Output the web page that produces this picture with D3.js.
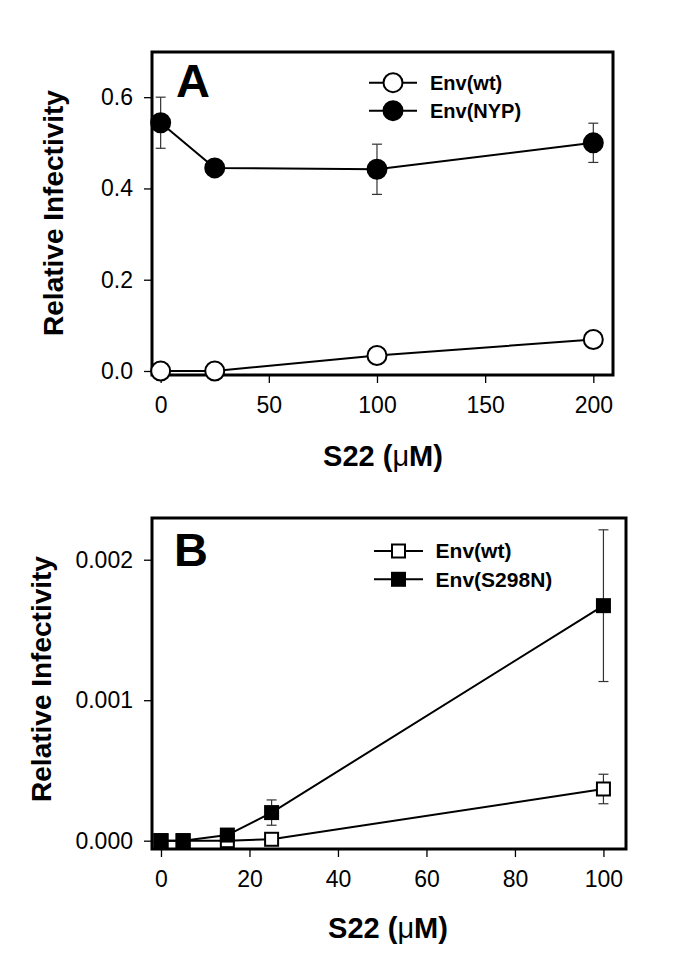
<!DOCTYPE html>
<html><head><meta charset="utf-8">
<script src="https://cdn.jsdelivr.net/npm/d3@7"></script>
<style>body{margin:0;background:#fff}svg{display:block}text{font-family:"Liberation Sans",Arial,sans-serif}</style>
</head><body>
<svg id="c" width="685" height="958"></svg>
<script>
// Panel A data
const concA = [0, 25, 100, 200];
const wtA = [0.0, 0.0, 0.034, 0.069];
const nypA = [0.544, 0.445, 0.442, 0.500];
const nypAerr = [0.056, 0, 0.055, 0.043];
const xTicksA = [0, 50, 100, 150, 200];
const yTicksA = [0.0, 0.2, 0.4, 0.6];

// Panel B data
const concB = [0, 5, 15, 25, 100];
const wtB = [0, 0, 0, 0.00001, 0.000368];
const wtBerr = [0, 0, 0, 0, 0.000105];
const s298nB = [0, 0, 0.00004, 0.0002, 0.001673];
const s298nBerr = [0, 0, 0, 0.00009, 0.00054];
const xTicksB = [0, 20, 40, 60, 80, 100];
const yTicksB = [0.000, 0.001, 0.002];

const svg = d3.select("#c");

function panel(o) {
  const g = svg.append("g");
  const x = d3.scaleLinear().domain(o.xd).range([o.l, o.r]);
  const y = d3.scaleLinear().domain(o.yd).range([o.b, o.t]);
  // axes
  const xa = g.append("g").attr("transform", `translate(0,${o.b})`)
    .call(d3.axisBottom(x).tickValues(o.xt).tickSize(8).tickSizeOuter(0).tickPadding(8).tickFormat(d3.format("d")));
  const ya = g.append("g").attr("transform", `translate(${o.l},0)`)
    .call(d3.axisLeft(y).tickValues(o.yt).tickSize(8).tickSizeOuter(0).tickPadding(11).tickFormat(d3.format(o.yf)));
  [xa, ya].forEach(a => {
    a.select(".domain").remove();
    a.selectAll("line").attr("stroke", "#000").attr("stroke-width", 1.3);
    a.selectAll("text").attr("font-size", 23).attr("fill", "#000")
      .style("font-family", '"Liberation Sans",Arial,sans-serif');
  });
  xa.selectAll("text").attr("dy", "0.95em");
  // frame
  g.append("rect").attr("x", o.l).attr("y", o.t).attr("width", o.r - o.l).attr("height", o.b - o.t)
    .attr("fill", "none").attr("stroke", "#000").attr("stroke-width", 3);
  // titles
  g.append("text").attr("transform", `translate(${o.ylx},${o.yly}) rotate(-90)`)
    .attr("text-anchor", "middle").attr("font-size", 28).attr("font-weight", "bold").text("Relative Infectivity");
  const xt = g.append("text").attr("x", o.xlx).attr("y", o.xly).attr("text-anchor", "middle")
    .attr("font-size", 29).attr("font-weight", "bold");
  xt.append("tspan").text("S22 (");
  xt.append("tspan").attr("font-weight", "normal").text("μ");
  xt.append("tspan").text("M)");
  g.append("text").attr("x", o.letterX).attr("y", o.letterY).attr("font-size", 47).attr("font-weight", "bold").text(o.letter);

  const line = d3.line().x(d => x(d[0])).y(d => y(d[1]));
  o.series.forEach(s => {
    const pts = o.xs.map((c, i) => [c, s.v[i], s.e ? s.e[i] : 0]);
    // error bars
    pts.filter(p => p[2] > 0).forEach(p => {
      const eg = g.append("g").attr("stroke", "#333").attr("stroke-width", 1.2);
      eg.append("line").attr("x1", x(p[0])).attr("x2", x(p[0])).attr("y1", y(p[1] - p[2])).attr("y2", y(p[1] + p[2]));
      [p[1] - p[2], p[1] + p[2]].forEach(v => eg.append("line")
        .attr("x1", x(p[0]) - 5).attr("x2", x(p[0]) + 5).attr("y1", y(v)).attr("y2", y(v)));
    });
    g.append("path").attr("d", line(pts)).attr("fill", "none").attr("stroke", "#000").attr("stroke-width", 2);
    pts.forEach(p => marker(g, s.shape, x(p[0]), y(p[1]), s.fill));
  });
  // legend
  o.series.forEach((s, i) => {
    const ly = o.legY + i * o.legGap;
    g.append("line").attr("x1", o.legX1).attr("x2", o.legX2).attr("y1", ly).attr("y2", ly)
      .attr("stroke", "#000").attr("stroke-width", 2);
    marker(g, s.shape, (o.legX1 + o.legX2) / 2, ly, s.fill);
    g.append("text").attr("x", o.legTx).attr("y", ly + 7.3).attr("font-size", o.legFs)
      .attr("font-weight", "bold").text(s.name);
  });
}

function marker(g, shape, cx, cy, fill) {
  if (shape === "circle") {
    g.append("circle").attr("cx", cx).attr("cy", cy).attr("r", 9.5)
      .attr("fill", fill).attr("stroke", "#000").attr("stroke-width", 2);
  } else {
    g.append("rect").attr("x", cx - 6.5).attr("y", cy - 6.5).attr("width", 13).attr("height", 13)
      .attr("fill", fill).attr("stroke", "#000").attr("stroke-width", 2);
  }
}

panel({
  l: 152, r: 613, t: 52, b: 375,
  xd: [-4, 209.1], yd: [-0.0088, 0.699],
  xt: xTicksA, yt: yTicksA, yf: ".1f",
  ylx: 63, yly: 213, xlx: 383, xly: 466,
  letter: "A", letterX: 176, letterY: 97,
  xs: concA,
  series: [
    {name: "Env(wt)", v: wtA, shape: "circle", fill: "#fff"},
    {name: "Env(NYP)", v: nypA, e: nypAerr, shape: "circle", fill: "#000"}
  ],
  legX1: 369, legX2: 417, legY: 82.7, legGap: 28, legTx: 430, legFs: 20
});

panel({
  l: 152, r: 626, t: 518, b: 849,
  xd: [-2.03, 105.1], yd: [-0.0000592, 0.002297],
  xt: xTicksB, yt: yTicksB, yf: ".3f",
  ylx: 51, yly: 679, xlx: 388, xly: 938,
  letter: "B", letterX: 174, letterY: 566,
  xs: concB,
  series: [
    {name: "Env(wt)", v: wtB, e: wtBerr, shape: "square", fill: "#fff"},
    {name: "Env(S298N)", v: s298nB, e: s298nBerr, shape: "square", fill: "#000"}
  ],
  legX1: 374, legX2: 423, legY: 551, legGap: 28.3, legTx: 435.6, legFs: 21
});
</script>
</body></html>
